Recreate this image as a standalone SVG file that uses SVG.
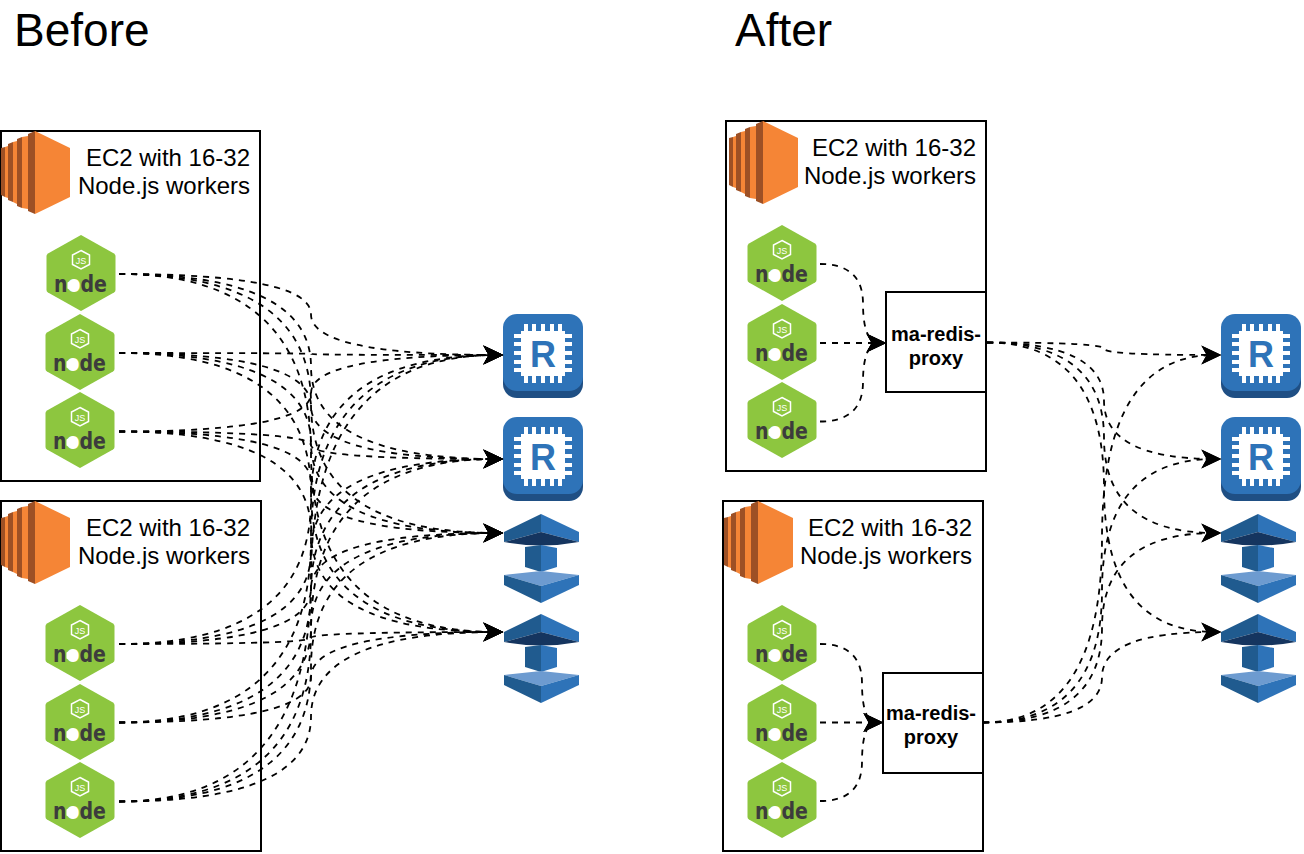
<svg xmlns="http://www.w3.org/2000/svg" width="1304" height="854" viewBox="0 0 1304 854">
<style>
.box{fill:#fff;stroke:#000;stroke-width:2}
.title{font:46px "Liberation Sans",Arial,sans-serif;fill:#000}
.label{font:24px "Liberation Sans",Arial,sans-serif;fill:#000;text-anchor:end}
.proxy{font:bold 20px "Liberation Sans",Arial,sans-serif;fill:#000;text-anchor:middle}
.edge{fill:none;stroke:#000;stroke-width:1.8;stroke-dasharray:6 6;marker-end:url(#arrow)}
</style>
<defs>
<marker id="arrow" markerUnits="userSpaceOnUse" markerWidth="20" markerHeight="20" viewBox="0 0 19 18" refX="13" refY="9" orient="auto" overflow="visible"><path d="M19 9L0 18L5 9L0 0Z" fill="#000"/></marker>
<g id="ec2">
<path d="M35 131L70 148V197L35 214Z" fill="#f58536"/>
<path d="M28 134L35 131V214L28 211Z" fill="#9d5025"/>
<path d="M22 137L28 136V209L22 208Z" fill="#f58536"/>
<path d="M17 139L22 137V208L17 206Z" fill="#9d5025"/>
<path d="M13 142L17 141V204L13 202Z" fill="#f58536"/>
<path d="M8 144L13 142V202L8 200Z" fill="#9d5025"/>
<path d="M5 147L8 146V198L5 197Z" fill="#f58536"/>
<path d="M1 148L5 147V197L1 195Z" fill="#9d5025"/>
</g>
<g id="nodejs">
<path d="M0 -38L33 -19.500Q34.500 -18.500 34.500 -17V17Q34.500 18.500 33 19.500L0 38L-33 19.500Q-34.500 18.500 -34.500 17V-17Q-34.500 -18.500 -33 -19.500Z" fill="#8dc63f"/>
<path d="M0 -22.500L8.500 -18V-8.500L0 -4L-8.500 -8.500V-18Z" fill="none" stroke="#fff" stroke-width="1.500"/>
<text x="0" y="-9.500" font-family="'Liberation Sans',Arial,sans-serif" font-size="9" fill="#fff" text-anchor="middle">JS</text>
<path d="M-8 6.500L-2.500 9.500V15.500L-8 18.500L-13.500 15.500V9.500Z" fill="#fff"/>
<text x="-27" y="18.500" textLength="53" lengthAdjust="spacingAndGlyphs" font-family="'DejaVu Sans',sans-serif" font-size="23" font-weight="bold" fill="#3c3c3c">n<tspan fill="#fff">o</tspan>de</text>
</g>
<g id="redis">
<rect x="0" y="3" width="80" height="81" rx="14" fill="#1f4f84"/>
<rect x="0" y="0" width="80" height="77" rx="14" fill="#2e73b8"/>
<g fill="#fff">
<rect x="21" y="10" width="4" height="59"/><rect x="29" y="10" width="4" height="59"/><rect x="38" y="10" width="4" height="59"/><rect x="47" y="10" width="4" height="59"/><rect x="55" y="10" width="4" height="59"/>
<rect x="11" y="20" width="58" height="4"/><rect x="11" y="28" width="58" height="4"/><rect x="11" y="37" width="58" height="4"/><rect x="11" y="46" width="58" height="4"/><rect x="11" y="54" width="58" height="4"/>
</g>
<rect x="18" y="17" width="44" height="45" fill="#fff"/>
<text x="40" y="53" font-family="'Liberation Sans',Arial,sans-serif" font-size="36" font-weight="bold" fill="#2e73b8" text-anchor="middle">R</text>
</g>
<g id="gateway">
<path d="M37 0L0 18V28L37 18Z" fill="#205b8f"/>
<path d="M37 0L75 18V28L37 18Z" fill="#2e73b8"/>
<path d="M0 28L37 18L75 28Q37 35 0 28Z" fill="#15355f"/>
<path d="M21 33L37 31V58L21 53Z" fill="#205b8f"/>
<path d="M53 34L37 31V58L53 53Z" fill="#2e73b8"/>
<path d="M37 57L0 61L37 72L75 61Z" fill="#6d9bd0"/>
<path d="M0 61L37 72V89L0 71Z" fill="#205b8f"/>
<path d="M75 61L37 72V89L75 71Z" fill="#2e73b8"/>
</g>
</defs>
<rect width="1304" height="854" fill="#fff"/>
<text class="title" x="14" y="46">Before</text>
<text class="title" x="735" y="46">After</text>
<g id="ec2-before-1"><rect class="box" x="1" y="131" width="259" height="350"/><use href="#ec2"/><text class="label" x="250" y="166">EC2 with 16-32</text><text class="label" x="250" y="194">Node.js workers</text></g>
<g id="ec2-before-2"><rect class="box" x="1" y="501" width="260" height="350"/><use href="#ec2" y="370"/><text class="label" x="250" y="536">EC2 with 16-32</text><text class="label" x="250" y="564">Node.js workers</text></g>
<g id="ec2-after-1"><rect class="box" x="726" y="121" width="260" height="350"/><use href="#ec2" x="728" y="-10"/><text class="label" x="976" y="156">EC2 with 16-32</text><text class="label" x="976" y="184">Node.js workers</text></g>
<g id="ec2-after-2"><rect class="box" x="723" y="501" width="260" height="350"/><use href="#ec2" x="723" y="370"/><text class="label" x="972" y="536">EC2 with 16-32</text><text class="label" x="972" y="564">Node.js workers</text></g>
<g id="node-b1"><use href="#nodejs" x="81" y="273"/></g>
<g id="node-b2"><use href="#nodejs" x="80" y="352"/></g>
<g id="node-b3"><use href="#nodejs" x="80" y="430"/></g>
<g id="node-b4"><use href="#nodejs" x="80" y="643"/></g>
<g id="node-b5"><use href="#nodejs" x="80" y="722"/></g>
<g id="node-b6"><use href="#nodejs" x="80" y="800"/></g>
<g id="node-a1"><use href="#nodejs" x="782" y="263"/></g>
<g id="node-a2"><use href="#nodejs" x="782" y="342"/></g>
<g id="node-a3"><use href="#nodejs" x="782" y="420"/></g>
<g id="node-a4"><use href="#nodejs" x="782" y="643"/></g>
<g id="node-a5"><use href="#nodejs" x="782" y="722"/></g>
<g id="node-a6"><use href="#nodejs" x="782" y="800"/></g>
<g id="proxy-1"><rect class="box" x="886" y="292" width="100" height="100"/><text class="proxy" x="936" y="341">ma-redis-</text><text class="proxy" x="936" y="365">proxy</text></g>
<g id="proxy-2"><rect class="box" x="883" y="673" width="100" height="100"/><text class="proxy" x="931" y="720">ma-redis-</text><text class="proxy" x="931" y="744">proxy</text></g>
<g id="redis-b1"><use href="#redis" x="503" y="314"/></g>
<g id="redis-b2"><use href="#redis" x="503" y="417"/></g>
<g id="gw-b1"><use href="#gateway" x="504" y="514"/></g>
<g id="gw-b2"><use href="#gateway" x="504" y="614"/></g>
<g id="redis-a1"><use href="#redis" x="1221" y="314"/></g>
<g id="redis-a2"><use href="#redis" x="1221" y="417"/></g>
<g id="gw-a1"><use href="#gateway" x="1221" y="514"/></g>
<g id="gw-a2"><use href="#gateway" x="1221" y="614"/></g>
<g id="connectors">
<path class="edge" d="M119 274Q311 274 311 314.500Q311 355 497 355"/>
<path class="edge" d="M119 274Q311 274 311 366.500Q311 459 497 459"/>
<path class="edge" d="M119 274Q311 274 311 403.500Q311 533 497 533"/>
<path class="edge" d="M119 274Q311 274 311 453Q311 632 497 632"/>
<path class="edge" d="M119 353Q311 353 311 354Q311 355 497 355"/>
<path class="edge" d="M119 353Q311 353 311 406Q311 459 497 459"/>
<path class="edge" d="M119 353Q311 353 311 443Q311 533 497 533"/>
<path class="edge" d="M119 353Q311 353 311 492.500Q311 632 497 632"/>
<path class="edge" d="M119 431.500Q311 431.500 311 393.250Q311 355 497 355"/>
<path class="edge" d="M119 431.500Q311 431.500 311 445.250Q311 459 497 459"/>
<path class="edge" d="M119 431.500Q311 431.500 311 482.250Q311 533 497 533"/>
<path class="edge" d="M119 431.500Q311 431.500 311 531.750Q311 632 497 632"/>
<path class="edge" d="M119 644Q311 644 311 499.500Q311 355 497 355"/>
<path class="edge" d="M119 644Q311 644 311 551.500Q311 459 497 459"/>
<path class="edge" d="M119 644Q311 644 311 588.500Q311 533 497 533"/>
<path class="edge" d="M119 644Q311 644 311 638Q311 632 497 632"/>
<path class="edge" d="M119 722.500Q311 722.500 311 538.750Q311 355 497 355"/>
<path class="edge" d="M119 722.500Q311 722.500 311 590.750Q311 459 497 459"/>
<path class="edge" d="M119 722.500Q311 722.500 311 627.750Q311 533 497 533"/>
<path class="edge" d="M119 722.500Q311 722.500 311 677.250Q311 632 497 632"/>
<path class="edge" d="M119 801.500Q311 801.500 311 578.250Q311 355 497 355"/>
<path class="edge" d="M119 801.500Q311 801.500 311 630.250Q311 459 497 459"/>
<path class="edge" d="M119 801.500Q311 801.500 311 667.250Q311 533 497 533"/>
<path class="edge" d="M119 801.500Q311 801.500 311 716.750Q311 632 497 632"/>
<path class="edge" d="M820 264Q863 264 863 303.500Q863 343 880 343"/>
<path class="edge" d="M820 343H880"/>
<path class="edge" d="M820 421.500Q863 421.500 863 382Q863 343 880 343"/>
<path class="edge" d="M820 644Q862 644 862 683Q862 722.500 877 722.500"/>
<path class="edge" d="M820 722.500H877"/>
<path class="edge" d="M820 801Q862 801 862 762Q862 722.500 877 722.500"/>
<path class="edge" d="M987 342.500Q1104 342.500 1104 348.750Q1104 355 1215 355"/>
<path class="edge" d="M987 342.500Q1104 342.500 1104 400.750Q1104 459 1215 459"/>
<path class="edge" d="M987 342.500Q1104 342.500 1104 437.750Q1104 533 1215 533"/>
<path class="edge" d="M987 342.500Q1104 342.500 1104 487.250Q1104 632 1215 632"/>
<path class="edge" d="M983 722.500Q1102 722.500 1102 538.750Q1102 355 1215 355"/>
<path class="edge" d="M983 722.500Q1102 722.500 1102 590.750Q1102 459 1215 459"/>
<path class="edge" d="M983 722.500Q1102 722.500 1102 627.750Q1102 533 1215 533"/>
<path class="edge" d="M983 722.500Q1102 722.500 1102 677.250Q1102 632 1215 632"/>
</g>
</svg>
